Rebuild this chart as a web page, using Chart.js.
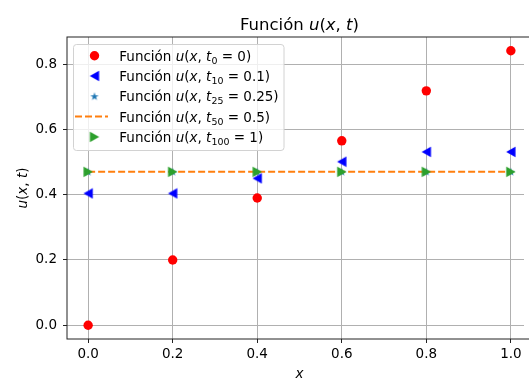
<!DOCTYPE html>
<html>
<head>
<meta charset="utf-8">
<script src="https://cdn.jsdelivr.net/npm/chart.js@4/dist/chart.umd.min.js"></script>
<style>
  html, body { margin: 0; padding: 0; overflow: hidden; background: #fff; }
  canvas { display: block; }
</style>
</head>
<body>
<canvas id="c" width="529" height="379"></canvas>
<script>
// values
const xs = [0.0, 0.2, 0.4, 0.6, 0.8, 1.0];
const u_t0 = [0.0, 0.2, 0.39, 0.565, 0.718, 0.841];
const u_t10 = [0.404, 0.404, 0.45, 0.501, 0.531, 0.531];
const u_t25 = [0.47, 0.47, 0.47, 0.47, 0.47, 0.47];
const u_t50 = [0.47, 0.47, 0.47, 0.47, 0.47, 0.47];
const u_t100 = [0.47, 0.47, 0.47, 0.47, 0.47, 0.47];
const tSubs = ['0', '10', '25', '50', '100'];
const tVals = ['0', '0.1', '0.25', '0.5', '1'];
const xTicks = [0.0, 0.2, 0.4, 0.6, 0.8, 1.0];
const yTicks = [0.0, 0.2, 0.4, 0.6, 0.8];
const xRange = [-0.05, 1.05];
const yRange = [-0.042, 0.883];

const FONT = '"DejaVu Sans"';
const mkLabel = i => [['Función ', ''], ['u', 'i'], ['(', ''], ['x', 'i'], [', ', ''], ['t', 'i'], [tSubs[i], 's'], [' = ' + tVals[i] + ')', '']];
const titleParts = [['Función ', ''], ['u', 'i'], ['(', ''], ['x', 'i'], [', ', ''], ['t', 'i'], [')', '']];
const yTitleParts = [['u', 'i'], ['(', ''], ['x', 'i'], [', ', ''], ['t', 'i'], [')', '']];
const xTitleParts = [['x', 'i']];

// marker images (matplotlib-like shapes)
function marker(kind, color) {
  const c = document.createElement('canvas');
  c.width = 12; c.height = 12;
  const g = c.getContext('2d');
  g.fillStyle = color;
  g.beginPath();
  if (kind === 'left') {
    g.moveTo(1.3, 6); g.lineTo(10.6, 0.7); g.lineTo(10.6, 11.3);
  } else if (kind === 'right') {
    g.moveTo(10.7, 6); g.lineTo(1.4, 0.7); g.lineTo(1.4, 11.3);
  } else {
    const R = 4.4, r = R * 0.382;
    for (let k = 0; k < 10; k++) {
      const ang = -Math.PI / 2 + k * Math.PI / 5;
      const rr = k % 2 ? r : R;
      g.lineTo(6 + rr * Math.cos(ang), 6.3 + rr * Math.sin(ang));
    }
  }
  g.closePath();
  g.fill();
  return c;
}
const triLeft = marker('left', '#0000ff');
const triRight = marker('right', '#2ca02c');
const star = marker('star', '#1f77b4');

function drawRich(ctx, parts, x, y, size, align) {
  const fonts = parts.map(([t, s]) => (s === 'i' ? 'italic ' : '') + (s === 's' ? size * 0.7 : size) + 'px ' + FONT);
  let w = 0;
  parts.forEach(([t], i) => { ctx.font = fonts[i]; w += ctx.measureText(t).width; });
  let cx = align === 'center' ? x - w / 2 : x;
  ctx.textAlign = 'left';
  ctx.textBaseline = 'alphabetic';
  parts.forEach(([t, s], i) => {
    ctx.font = fonts[i];
    ctx.fillText(t, cx, s === 's' ? y + size * 0.22 : y);
    cx += ctx.measureText(t).width;
  });
}

// pin the plot area: the axes run past the right edge of the window, as in the figure
const AREA = { left: 67, top: 37, right: 532, bottom: 339 };
const pinArea = {
  id: 'pinArea',
  afterLayout(chart) {
    const a = chart.chartArea;
    Object.assign(a, AREA);
    a.width = AREA.right - AREA.left;
    a.height = AREA.bottom - AREA.top;
    const x = chart.scales.x, y = chart.scales.y;
    x.left = AREA.left; x.right = AREA.right; x.width = a.width; x.top = AREA.bottom;
    y.top = AREA.top; y.bottom = AREA.bottom; y.height = a.height; y.right = AREA.left;
    x.configure();
    y.configure();
  }
};

const decor = {
  id: 'decor',
  afterDatasetsDraw(chart) {
    const { ctx, chartArea: a } = chart;
    ctx.save();
    // nothing lives in the last few columns between the spines
    ctx.fillStyle = '#fff';
    ctx.fillRect(chart.width - 5, a.top + 1, 5, a.bottom - a.top - 2);
    // axes spines
    ctx.strokeStyle = '#222';
    ctx.lineWidth = 1;
    ctx.strokeRect(a.left, a.top, a.right - a.left, a.bottom - a.top);

    ctx.fillStyle = '#000';
    drawRich(ctx, titleParts, (a.left + a.right) / 2, 30, 16.5, 'center');
    drawRich(ctx, xTitleParts, (a.left + a.right) / 2, 378, 13.5, 'center');
    ctx.save();
    ctx.translate(26.5, (a.top + a.bottom) / 2);
    ctx.rotate(-Math.PI / 2);
    drawRich(ctx, yTitleParts, 0, 0, 13.5, 'center');
    ctx.restore();

    // legend
    const bx = a.left + 6.5, by = a.top + 7.5, bw = 210.5, bh = 106;
    ctx.beginPath();
    ctx.roundRect(bx, by, bw, bh, 3);
    ctx.fillStyle = 'rgba(255,255,255,0.8)';
    ctx.fill();
    ctx.strokeStyle = '#d2d2d2';
    ctx.stroke();
    chart.data.datasets.forEach((ds, i) => {
      const cy = a.top + 18.7 + i * 20.3;
      const mx = a.left + 27.5;
      if (ds.showLine) {
        ctx.save();
        ctx.strokeStyle = ds.borderColor;
        ctx.lineWidth = ds.borderWidth;
        ctx.setLineDash(ds.borderDash);
        ctx.beginPath();
        ctx.moveTo(a.left + 8, cy);
        ctx.lineTo(a.left + 41, cy);
        ctx.stroke();
        ctx.restore();
      } else if (ds.pointStyle === 'circle') {
        ctx.beginPath();
        ctx.arc(mx, cy, ds.pointRadius, 0, Math.PI * 2);
        ctx.fillStyle = ds.backgroundColor;
        ctx.fill();
      } else {
        ctx.drawImage(ds.pointStyle, mx - 6, cy - 6);
      }
      ctx.fillStyle = '#000';
      drawRich(ctx, mkLabel(i), a.left + 52.3, cy + 5, 13.5, 'left');
    });
    ctx.restore();
  }
};

const pts = ys => xs.map((x, i) => ({ x, y: ys[i] }));
const gridOpts = { color: '#b0b0b0', lineWidth: 1, tickColor: '#222', tickLength: 4, tickWidth: 1 };
const tickFont = { family: FONT, size: 13.5 };

new Chart(document.getElementById('c'), {
  type: 'scatter',
  data: {
    datasets: [
      { label: 'Función u(x, t_0 = 0)', data: pts(u_t0), pointStyle: 'circle', pointRadius: 4.7, pointBorderWidth: 0,
        backgroundColor: '#ff0000', borderColor: '#ff0000', order: 5 },
      { label: 'Función u(x, t_10 = 0.1)', data: pts(u_t10), pointStyle: triLeft, pointRadius: 5,
        backgroundColor: '#0000ff', borderColor: '#0000ff', order: 4 },
      { label: 'Función u(x, t_25 = 0.25)', data: pts(u_t25), pointStyle: star, pointRadius: 5,
        backgroundColor: '#1f77b4', borderColor: '#1f77b4', order: 3 },
      { label: 'Función u(x, t_50 = 0.5)', data: pts(u_t50), showLine: true, pointRadius: 0, borderWidth: 2,
        borderDash: [7, 3], borderColor: '#ff7f0e', backgroundColor: '#ff7f0e', tension: 0, order: 2 },
      { label: 'Función u(x, t_100 = 1)', data: pts(u_t100), pointStyle: triRight, pointRadius: 5,
        backgroundColor: '#2ca02c', borderColor: '#2ca02c', order: 1 },
    ]
  },
  options: {
    responsive: false,
    animation: false,
    devicePixelRatio: 1,
    layout: { padding: { top: 37, right: 0, left: 0, bottom: 0 } },
    plugins: { legend: { display: false }, tooltip: { enabled: false }, title: { display: false } },
    scales: {
      x: {
        type: 'linear', min: xRange[0], max: xRange[1],
        afterBuildTicks: s => { s.ticks = xTicks.map(v => ({ value: v })); },
        afterFit: s => { s.height = 40; },
        grid: gridOpts, border: { display: false },
        ticks: { font: tickFont, color: '#000', padding: 3, maxRotation: 0, callback: v => v.toFixed(1) }
      },
      y: {
        type: 'linear', min: yRange[0], max: yRange[1],
        afterBuildTicks: s => { s.ticks = yTicks.map(v => ({ value: v })); },
        afterFit: s => { s.width = 67; },
        grid: gridOpts, border: { display: false },
        ticks: { font: tickFont, color: '#000', padding: 6, callback: v => v.toFixed(1) }
      }
    }
  },
  plugins: [pinArea, decor]
});
</script>
</body>
</html>
